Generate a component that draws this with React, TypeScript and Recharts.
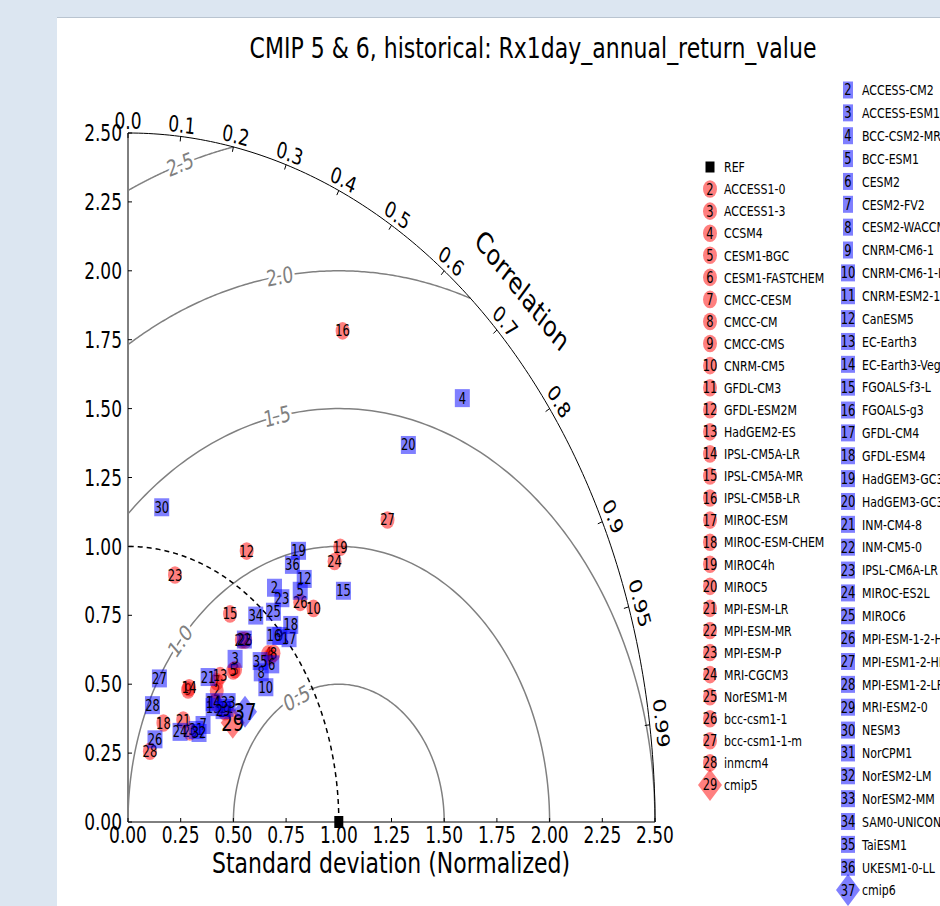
import React from "react";
import { ScatterChart, Scatter, XAxis, YAxis } from "recharts";

// vertical stretch of the original picture (text and markers are taller than wide)
const SY = 1.31;
const FONT = "'DejaVu Sans', 'Noto Sans', sans-serif";

const stdTicks = [0, 0.25, 0.5, 0.75, 1, 1.25, 1.5, 1.75, 2, 2.25, 2.5];
const corrTicks = [0, 0.1, 0.2, 0.3, 0.4, 0.5, 0.6, 0.7, 0.8, 0.9, 0.95, 0.99];
const corrLabels = ["0.0", "0.1", "0.2", "0.3", "0.4", "0.5", "0.6", "0.7", "0.8", "0.9", "0.95", "0.99"];

const rmsLevels = [0.5, 1.0, 1.5, 2.0, 2.5];
const rmsLabels = ["0.5", "1.0", "1.5", "2.0", "2.5"];
const rmsLabelX = [0.8, 0.247, 0.707, 0.72, 0.247];
const rmsLabelY = [0.45, 0.657, 1.473, 1.98, 2.387];

const maxStd = 2.5;
const refStd = 1.0;

// CMIP5 models, ids 2..28 (red circles), normalized std as x/y components
const cmip5Models = [
  "ACCESS1-0", "ACCESS1-3", "CCSM4", "CESM1-BGC", "CESM1-FASTCHEM", "CMCC-CESM", "CMCC-CM", "CMCC-CMS",
  "CNRM-CM5", "GFDL-CM3", "GFDL-ESM2M", "HadGEM2-ES", "IPSL-CM5A-LR", "IPSL-CM5A-MR", "IPSL-CM5B-LR",
  "MIROC-ESM", "MIROC-ESM-CHEM", "MIROC4h", "MIROC5", "MPI-ESM-LR", "MPI-ESM-MR", "MPI-ESM-P",
  "MRI-CGCM3", "NorESM1-M", "bcc-csm1-1", "bcc-csm1-1-m", "inmcm4",
];
const cmip5X = [
  0.421, 0.508, 0.665, 0.499, 0.674, 0.421, 0.69, 0.285, 0.88, 0.413, 0.563, 0.437, 0.29, 0.484, 1.018,
  0.46, 0.168, 1.007, 0.294, 0.262, 0.54, 0.223, 0.98, 0.556, 0.817, 1.231, 0.104,
];
const cmip5Y = [
  0.476, 0.553, 0.61, 0.548, 0.599, 0.509, 0.612, 0.479, 0.775, 0.435, 0.983, 0.531, 0.487, 0.755, 1.782,
  0.4, 0.359, 0.997, 0.327, 0.37, 0.66, 0.896, 0.945, 0.66, 0.797, 1.096, 0.257,
];
const cmip5MeanX = 0.497;
const cmip5MeanY = 0.36;

// CMIP6 models, ids 2..36 (blue squares)
const cmip6Models = [
  "ACCESS-CM2", "ACCESS-ESM1-5", "BCC-CSM2-MR", "BCC-ESM1", "CESM2", "CESM2-FV2", "CESM2-WACCM",
  "CNRM-CM6-1", "CNRM-CM6-1-HR", "CNRM-ESM2-1", "CanESM5", "EC-Earth3", "EC-Earth3-Veg", "FGOALS-f3-L",
  "FGOALS-g3", "GFDL-CM4", "GFDL-ESM4", "HadGEM3-GC31-LL", "HadGEM3-GC31-MM", "INM-CM4-8", "INM-CM5-0",
  "IPSL-CM6A-LR", "MIROC-ES2L", "MIROC6", "MPI-ESM-1-2-HAM", "MPI-ESM1-2-HR", "MPI-ESM1-2-LR",
  "MRI-ESM2-0", "NESM3", "NorCPM1", "NorESM2-LM", "NorESM2-MM", "SAM0-UNICON", "TaiESM1", "UKESM1-0-LL",
];
const cmip6X = [
  0.695, 0.508, 1.586, 0.817, 0.682, 0.356, 0.632, 0.72, 0.654, 0.465, 0.836, 0.404, 0.404, 1.022, 0.693,
  0.764, 0.772, 0.809, 1.33, 0.38, 0.552, 0.73, 0.247, 0.69, 0.128, 0.149, 0.116, 0.451, 0.16, 0.323,
  0.337, 0.475, 0.606, 0.627, 0.78,
];
const cmip6Y = [
  0.85, 0.592, 1.538, 0.839, 0.572, 0.352, 0.543, 0.675, 0.489, 0.414, 0.882, 0.417, 0.435, 0.839, 0.676,
  0.667, 0.715, 0.984, 1.368, 0.526, 0.662, 0.812, 0.327, 0.763, 0.3, 0.521, 0.424, 0.406, 1.142, 0.334,
  0.323, 0.435, 0.749, 0.584, 0.933,
];
const cmip6MeanX = 0.555;
const cmip6MeanY = 0.4;

const RED = "#ff0000";
const BLUE = "#0000ff";

// ---- geometry helpers (grid curves of the Taylor diagram) ----
function arcPoints(cx0: number, r: number, a0: number, a1: number, n = 160) {
  const pts: { x: number; y: number }[] = [];
  for (let i = 0; i <= n; i++) {
    const a = a0 + ((a1 - a0) * i) / n;
    const x = Math.min(maxStd, Math.max(0, cx0 + r * Math.cos(a)));
    const y = Math.min(maxStd, Math.max(0, r * Math.sin(a)));
    pts.push({ x, y });
  }
  return pts;
}

function rmsArc(R: number) {
  const k = (maxStd * maxStd - refStd * refStd - R * R) / (2 * R * refStd);
  const lo = k >= 1 ? 0 : Math.acos(k);
  const hi = -refStd / R <= -1 ? Math.PI : Math.acos(-refStd / R);
  return arcPoints(refStd, R, lo, hi);
}

const outerArc = arcPoints(0, maxStd, 0, Math.PI / 2);
const refArc = arcPoints(0, refStd, 0, Math.PI / 2);
const rmsArcs = rmsLevels.map(rmsArc);

const corrTickData = corrTicks.map((c, i) => ({
  x: maxStd * c,
  y: maxStd * Math.sqrt(1 - c * c),
  c,
  label: corrLabels[i],
}));
const rmsLabelData = rmsLevels.map((lv, i) => ({ x: rmsLabelX[i], y: rmsLabelY[i], label: rmsLabels[i] }));
const xTickData = stdTicks.map((v) => ({ x: v, y: 0 }));
const yTickData = stdTicks.map((v) => ({ x: 0, y: v }));

const cmip5Data = cmip5Models.map((m, i) => ({ x: cmip5X[i], y: cmip5Y[i], id: i + 2, name: m }));
const cmip6Data = cmip6Models.map((m, i) => ({ x: cmip6X[i], y: cmip6Y[i], id: i + 2, name: m }));

// ---- drawing pieces ----
type TxtProps = {
  x: number;
  y: number;
  fs: number;
  rot?: number;
  anchor?: "start" | "middle" | "end";
  fill?: string;
  halo?: boolean;
  children: React.ReactNode;
};

function STxt({ x, y, fs, rot = 0, anchor = "middle", fill = "#000", halo = false, children }: TxtProps) {
  return (
    <g transform={`translate(${x},${y}) scale(1,${SY}) rotate(${rot})`}>
      <text
        x={0}
        y={0.3645 * fs}
        textAnchor={anchor}
        fontSize={fs}
        fontFamily={FONT}
        fill={fill}
        stroke={halo ? "#fff" : "none"}
        strokeWidth={halo ? 5 : 0}
        strokeLinejoin="round"
        paintOrder="stroke"
      >
        {children}
      </text>
    </g>
  );
}

function Mark({ cx, cy, id, kind, legend }: { cx: number; cy: number; id: number; kind: string; legend?: boolean }) {
  const label = String(id);
  let shape: React.ReactNode;
  if (kind === "circle") {
    shape = <ellipse cx={cx} cy={cy} rx={7} ry={8.8} fill={RED} fillOpacity={0.5} />;
  } else if (kind === "square") {
    const w = legend ? (label.length > 1 ? 14 : 10) : 15;
    const h = legend ? 17 : 18;
    shape = <rect x={cx - w / 2} y={cy - h / 2} width={w} height={h} fill={BLUE} fillOpacity={0.5} />;
  } else {
    const col = kind === "diamond5" ? RED : BLUE;
    shape = (
      <polygon
        points={`${cx},${cy - 16} ${cx + 12},${cy} ${cx},${cy + 16} ${cx - 12},${cy}`}
        fill={col}
        fillOpacity={0.5}
      />
    );
  }
  const big = kind.startsWith("diamond") && !legend;
  return (
    <g>
      {shape}
      <STxt x={cx} y={cy} fs={big ? 18 : 11.5}>
        {label}
      </STxt>
    </g>
  );
}

const noShape = () => <g />;

function XTick(props: any) {
  const { x, y, payload } = props;
  return (
    <STxt x={x} y={y + 8.2} fs={17}>
      {Number(payload.value).toFixed(2)}
    </STxt>
  );
}

function YTick(props: any) {
  const { x, y, payload } = props;
  return (
    <STxt x={x} y={y} fs={17} anchor="end">
      {Number(payload.value).toFixed(2)}
    </STxt>
  );
}

function CorrTick(props: any) {
  const { cx, cy, payload } = props;
  const th = Math.acos(payload.c);
  const ux = Math.cos(th);
  const uy = Math.sin(th);
  const rot = 90 - (th * 180) / Math.PI;
  return (
    <g>
      <line x1={cx} y1={cy} x2={cx - 5 * ux} y2={cy + 5 * uy} stroke="#000" strokeWidth={1} />
      <STxt x={cx + 12 * ux} y={cy - 12 * uy} fs={17} rot={rot}>
        {payload.label}
      </STxt>
    </g>
  );
}

function RmsLabel(props: any) {
  const { cx, cy, payload } = props;
  const phi = Math.atan2(payload.y, payload.x - refStd);
  const tang = ((phi - Math.PI / 2) * 180) / Math.PI;
  return (
    <STxt x={cx} y={cy} fs={17} rot={-tang} fill="#808080" halo>
      {payload.label}
    </STxt>
  );
}

function CorrTitle(props: any) {
  const { cx, cy } = props;
  return (
    <STxt x={cx} y={cy} fs={22} rot={44}>
      Correlation
    </STxt>
  );
}

export default function App() {
  const leg1Y0 = 167;
  const leg1Step = 22.07;
  const leg2Y0 = 90;
  const leg2Step = 22.86;

  return (
    <div style={{ position: "absolute", left: 0, top: 0, width: 940, height: 906, overflow: "hidden", background: "#dce6f1" }}>
      <div
        style={{
          position: "absolute",
          left: 57,
          top: 17,
          width: 883,
          height: 889,
          background: "#fff",
          borderTop: "1px solid #b9c4d0",
        }}
      />
      <div style={{ position: "absolute", left: 0, top: 0 }}>
        <ScatterChart width={940} height={906} margin={{ top: 133, right: 285, bottom: 54, left: 68 }}>
          <XAxis
            type="number"
            dataKey="x"
            domain={[0, maxStd]}
            ticks={stdTicks}
            tickLine={false}
            tickSize={0}
            tickMargin={5}
            axisLine={{ stroke: "#000" }}
            tick={<XTick />}
            height={30}
          />
          <YAxis
            type="number"
            dataKey="y"
            domain={[0, maxStd]}
            ticks={stdTicks}
            tickLine={false}
            tickSize={0}
            tickMargin={6}
            axisLine={{ stroke: "#000" }}
            tick={<YTick />}
            width={60}
          />

          {rmsArcs.map((pts, i) => (
            <Scatter
              key={`rms${i}`}
              data={pts}
              line={{ stroke: "#808080", strokeWidth: 1.5 }}
              lineType="joint"
              shape={noShape}
              isAnimationActive={false}
            />
          ))}
          <Scatter
            data={refArc}
            line={{ stroke: "#000", strokeWidth: 1.5, strokeDasharray: "5 4" }}
            lineType="joint"
            shape={noShape}
            isAnimationActive={false}
          />
          <Scatter
            data={outerArc}
            line={{ stroke: "#000", strokeWidth: 1 }}
            lineType="joint"
            shape={noShape}
            isAnimationActive={false}
          />
          <Scatter
            data={xTickData}
            shape={(p: any) => <line x1={p.cx} y1={p.cy} x2={p.cx} y2={p.cy - 4} stroke="#000" />}
            isAnimationActive={false}
          />
          <Scatter
            data={yTickData}
            shape={(p: any) => <line x1={p.cx} y1={p.cy} x2={p.cx + 4} y2={p.cy} stroke="#000" />}
            isAnimationActive={false}
          />
          <Scatter data={corrTickData} shape={CorrTick} isAnimationActive={false} />
          <Scatter data={[{ x: 1.871, y: 1.93 }]} shape={CorrTitle} isAnimationActive={false} />
          <Scatter data={rmsLabelData} shape={RmsLabel} isAnimationActive={false} />

          <Scatter
            data={[{ x: refStd, y: 0 }]}
            shape={(p: any) => <rect x={p.cx - 4.5} y={p.cy - 6} width={9} height={12} fill="#000" />}
            isAnimationActive={false}
          />
          <Scatter
            data={cmip5Data}
            shape={(p: any) => <Mark cx={p.cx} cy={p.cy} id={p.payload.id} kind="circle" />}
            isAnimationActive={false}
          />
          <Scatter
            data={[{ x: cmip5MeanX, y: cmip5MeanY }]}
            shape={(p: any) => <Mark cx={p.cx} cy={p.cy} id={29} kind="diamond5" />}
            isAnimationActive={false}
          />
          <Scatter
            data={cmip6Data}
            shape={(p: any) => <Mark cx={p.cx} cy={p.cy} id={p.payload.id} kind="square" />}
            isAnimationActive={false}
          />
          <Scatter
            data={[{ x: cmip6MeanX, y: cmip6MeanY }]}
            shape={(p: any) => <Mark cx={p.cx} cy={p.cy} id={37} kind="diamond6" />}
            isAnimationActive={false}
          />
        </ScatterChart>
      </div>

      <svg width={940} height={906} style={{ position: "absolute", left: 0, top: 0, pointerEvents: "none" }}>
        <STxt x={533} y={47} fs={22}>
          CMIP 5 &amp; 6, historical: Rx1day_annual_return_value
        </STxt>
        <STxt x={391} y={862} fs={22}>
          Standard deviation (Normalized)
        </STxt>

        {/* CMIP5 legend */}
        <rect x={705.5} y={leg1Y0 - 5.5} width={9} height={11} fill="#000" />
        <STxt x={724} y={leg1Y0} fs={11} anchor="start">
          REF
        </STxt>
        {cmip5Models.map((m, i) => {
          const y = leg1Y0 + (i + 1) * leg1Step;
          return (
            <g key={m}>
              <Mark cx={710} cy={y} id={i + 2} kind="circle" legend />
              <STxt x={724} y={y} fs={11} anchor="start">
                {m}
              </STxt>
            </g>
          );
        })}
        <Mark cx={710} cy={leg1Y0 + 28 * leg1Step} id={29} kind="diamond5" legend />
        <STxt x={724} y={leg1Y0 + 28 * leg1Step} fs={11} anchor="start">
          cmip5
        </STxt>

        {/* CMIP6 legend */}
        {cmip6Models.map((m, i) => {
          const y = leg2Y0 + i * leg2Step;
          return (
            <g key={m}>
              <Mark cx={848} cy={y} id={i + 2} kind="square" legend />
              <STxt x={862} y={y} fs={11} anchor="start">
                {m}
              </STxt>
            </g>
          );
        })}
        <Mark cx={848} cy={leg2Y0 + 35 * leg2Step} id={37} kind="diamond6" legend />
        <STxt x={862} y={leg2Y0 + 35 * leg2Step} fs={11} anchor="start">
          cmip6
        </STxt>
      </svg>
    </div>
  );
}
